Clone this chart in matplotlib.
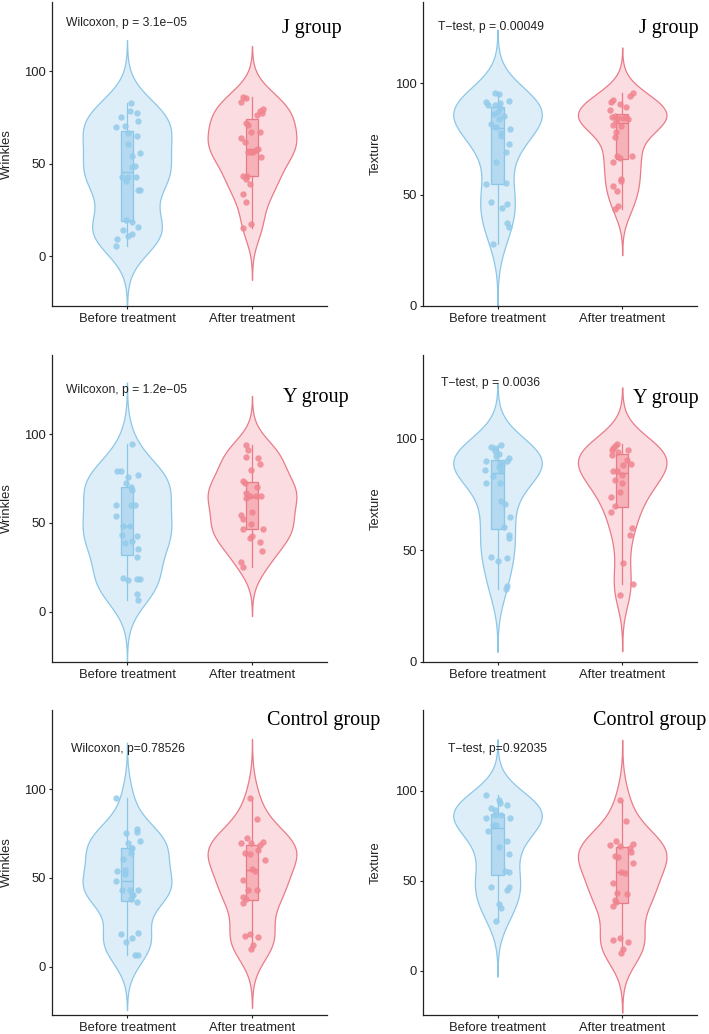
import numpy as np
import matplotlib.pyplot as plt

plt.rcParams['font.family'] = ['Liberation Sans', 'DejaVu Sans']

categories = ["Before treatment", "After treatment"]

# J group - wrinkles
j_wrinkle_before = [82.7, 78.3, 77.1, 75.3, 73.1, 69.9, 70.2, 66.6, 65.0, 60.3, 55.8, 54.3, 48.9, 48.2,
                    42.8, 42.8, 42.8, 40.4, 35.9, 35.9, 19.3, 18.4, 14.1, 15.7, 12.1, 11.0, 9.2, 5.6]
j_wrinkle_before_jit = [.03, .02, .08, -.05, .09, -.09, -.02, .01, .08, .01, .10, .04, .06, .04,
                        -.04, .01, .07, -.01, .09, .10, -.01, .04, -.03, .09, .04, .01, -.08, -.09]
j_wrinkle_after = [85.7, 85.2, 83.2, 79.6, 78.5, 77.1, 76.4, 71.7, 71.0, 67.0, 67.0, 63.7, 61.9, 57.9,
                   56.1, 56.1, 56.5, 57.2, 53.6, 43.5, 43.1, 41.7, 38.8, 33.8, 29.1, 17.1, 15.0]
j_wrinkle_after_jit = [-.07, -.05, -.09, .09, .06, .08, .04, -.05, -.03, -.01, .06, -.09, -.06, .05,
                       -.03, -.01, .01, .03, .07, -.07, -.04, -.05, -.02, -.07, -.05, -.01, -.07]

# J group - texture
j_texture_before = [95.4, 95.1, 92.1, 91.5, 91.0, 90.3, 90.0, 88.9, 87.1, 86.0, 85.3, 84.0, 81.7, 80.5,
                    79.6, 77.6, 76.1, 72.5, 68.9, 64.8, 54.7, 55.0, 46.7, 44.0, 45.8, 37.1, 35.4, 27.9]
j_texture_before_jit = [-.02, .01, .09, -.09, .02, -.08, -.02, .02, 0, -.03, .05, .01, -.05, -.01,
                        .10, .03, .03, .09, .07, -.01, -.09, .07, -.05, .04, .08, .08, .09, -.04]
j_texture_after = [95.4, 94.1, 92.5, 91.5, 90.5, 89.5, 88.0, 85.4, 85.0, 84.8, 84.5, 84.5, 84.0, 83.0,
                   81.0, 80.7, 78.0, 76.0, 67.5, 67.3, 66.6, 64.8, 57.1, 56.2, 53.8, 51.7, 44.9, 43.4]
j_texture_after_jit = [.09, .06, -.07, -.09, -.02, .03, -.10, -.06, .03, -.08, -.03, .01, .05, -.05,
                       -.07, -.01, -.05, -.06, .08, -.04, -.02, -.07, -.01, -.01, -.07, -.04, -.03, -.06]

# Y group - wrinkles
y_wrinkle_before = [94.7, 79.3, 79.3, 77.1, 75.9, 72.7, 70.5, 68.6, 60.2, 60.0, 60.0, 53.9, 48.5,
                    48.5, 43.0, 42.7, 39.7, 38.9, 35.5, 31.0, 19.2, 18.6, 18.6, 18.0, 10.0, 6.6]
y_wrinkle_before_jit = [.04, -.08, -.05, .09, .01, -.01, .03, .04, -.09, .03, .06, -.09, -.03,
                        .02, -.04, .08, .04, -.02, .09, .08, -.03, .08, .10, .01, .08, .09]
y_wrinkle_after = [94.0, 91.2, 87.4, 86.8, 83.3, 80.0, 73.5, 72.5, 70.3, 67.1, 65.0, 65.4, 65.4, 64.1,
                   56.0, 54.5, 52.0, 49.4, 46.4, 46.8, 42.7, 41.4, 39.5, 34.2, 28.2, 25.2]
y_wrinkle_after_jit = [-.05, -.03, -.05, .05, .06, -.01, -.07, -.06, .04, -.05, -.02, .03, .07, -.05,
                       0, -.09, -.07, -.01, -.07, .09, 0, -.02, .06, .08, -.09, -.07]

# Y group - texture
y_texture_before = [97.0, 96.2, 96.0, 94.5, 93.0, 92.1, 91.5, 90.1, 90.1, 89.0, 88.3, 87.5, 86.0, 85.7,
                    83.1, 80.2, 79.9, 72.0, 70.8, 65.0, 60.5, 56.6, 55.4, 46.9, 46.6, 45.2, 33.8, 32.4]
y_texture_before_jit = [.03, -.05, -.02, -.02, .01, -.01, .09, -.09, .08, .02, .04, .01, -.10, .03,
                        -.04, -.09, .02, .03, .06, .10, .05, .09, .09, -.05, .08, 0, .08, .07]
y_texture_after = [97.7, 96.5, 95.9, 94.8, 94.8, 94.0, 92.7, 90.4, 88.6, 88.0, 85.7, 85.5, 83.7, 81.6,
                   79.9, 76.1, 74.0, 70.0, 67.3, 60.1, 56.6, 44.3, 34.7, 30.0]
y_texture_after_jit = [-.04, -.06, -.07, -.08, .05, -.03, -.08, .04, .07, .01, -.07, -.04, 0, -.06,
                       0, -.02, -.09, -.06, -.09, .08, .06, .01, .09, -.02]

# Control group - wrinkles
c_wrinkle_before = [95.3, 77.6, 76.1, 75.2, 70.9, 69.5, 67.0, 66.7, 64.0, 60.5, 54.5, 54.1, 52.0, 48.1,
                    43.2, 43.0, 43.0, 41.0, 40.4, 38.0, 36.3, 19.2, 18.6, 16.4, 13.9, 6.4, 6.4]
c_wrinkle_before_jit = [-.09, .08, .08, -.01, .10, .01, .04, .03, .03, -.03, -.02, -.08, -.02, -.09,
                        -.04, .02, .09, .04, .05, .03, .08, .09, -.05, .04, -.01, .06, .09]
c_wrinkle_after = [94.9, 83.1, 72.4, 70.1, 69.9, 69.5, 68.6, 66.0, 63.9, 63.3, 60.0, 55.0, 54.1, 48.7,
                   43.2, 43.0, 39.5, 38.0, 36.1, 18.2, 17.3, 16.5, 12.0, 10.2]
c_wrinkle_after_jit = [-.02, .04, -.04, .09, -.09, -.01, .06, .05, -.06, -.02, .10, 0, .02, -.07,
                       -.03, .04, -.07, -.05, -.07, -.02, -.06, .05, .01, -.01]

# Control group - texture
c_texture_before = [97.6, 94.8, 93.0, 92.0, 90.6, 89.0, 86.5, 86.5, 85.0, 85.0, 80.9, 80.9, 77.4, 72.2,
                    68.9, 64.8, 55.6, 55.0, 46.5, 46.7, 44.8, 37.2, 34.6, 27.6]
c_texture_before_jit = [-.09, .01, .02, .08, -.05, -.02, -.02, .03, -.09, .10, -.04, -.01, -.08, .08,
                        .01, .09, .06, .09, -.05, .09, .08, .01, .03, -.01]
c_texture_after = [95.0, 83.1, 72.0, 70.2, 69.8, 69.1, 68.3, 66.0, 63.9, 63.1, 59.8, 55.0, 54.3, 48.7,
                   43.1, 42.8, 39.1, 38.0, 35.7, 18.0, 16.9, 16.1, 12.0, 9.8]
c_texture_after_jit = [-.02, .03, -.05, .09, -.10, -.02, .06, .07, -.06, -.03, .09, -.01, .02, -.07,
                       -.04, .04, -.06, -.05, -.07, -.02, -.07, .05, .01, -.01]

group_titles = ["J group", "J group", "Y group", "Y group", "Control group", "Control group"]
y_labels = ["Wrinkles", "Texture"] * 3
p_labels = ["Wilcoxon, p = 3.1e\u221205", "T\u2212test, p = 0.00049",
            "Wilcoxon, p = 1.2e\u221205", "T\u2212test, p = 0.0036",
            "Wilcoxon, p=0.78526", "T\u2212test, p=0.92035"]

blue_line, blue_fill, blue_box, blue_pt = "#8CC7E8", "#DDEEF8", "#B4D9F0", "#93CBEB"
red_line, red_fill, red_box, red_pt = "#E97B88", "#FBDCE0", "#F6B1B9", "#F0848F"

W, H = 709, 1034
fig = plt.figure(figsize=(W / 100, H / 100), dpi=100)


def px_axes(left, top, right, bottom):
    return fig.add_axes([left / W, 1 - bottom / H, (right - left) / W, (bottom - top) / H])


def kde(vals):
    # gaussian kde, bw.nrd0, cut = 3 (like ggplot violin trim=FALSE)
    v = np.asarray(vals, dtype=float)
    n = len(v)
    q75, q25 = np.percentile(v, [75, 25])
    bw = 0.9 * min(v.std(ddof=1), (q75 - q25) / 1.34) * n ** -0.2
    grid = np.linspace(v.min() - 3 * bw, v.max() + 3 * bw, 512)
    dens = np.exp(-0.5 * ((grid[:, None] - v[None, :]) / bw) ** 2).sum(axis=1)
    return grid, dens / dens.max()


def panel(ax, groups, ylabel, ylim, note, note_xy, label_x):
    styles = [(blue_line, blue_fill, blue_box, blue_pt), (red_line, red_fill, red_box, red_pt)]
    for i, ((vals, jit), (line, fill, box, pt)) in enumerate(zip(groups, styles)):
        x0 = i + 1
        grid, dens = kde(vals)
        ax.fill_betweenx(grid, x0 - 0.355 * dens, x0 + 0.355 * dens,
                         facecolor=fill, edgecolor=line, lw=0.9, zorder=1)
        ax.boxplot([vals], positions=[x0], widths=0.1, patch_artist=True, showfliers=False,
                   showcaps=False, manage_ticks=False,
                   boxprops=dict(facecolor=box, edgecolor=line, lw=0.9),
                   whiskerprops=dict(color=line, lw=0.9),
                   medianprops=dict(color=line, lw=1.0), zorder=2)
        ax.scatter(x0 + np.array(jit), vals, s=21, color=pt, alpha=0.85, lw=0, zorder=4)

    ax.set_xlim(0.4, 2.6)
    ax.set_ylim(*ylim)
    ax.set_xticks([1, 2])
    ax.set_xticklabels(categories)
    ax.set_yticks([0, 50, 100])
    for s in ["top", "right"]:
        ax.spines[s].set_visible(False)
    for s in ["left", "bottom"]:
        ax.spines[s].set_linewidth(0.9)
        ax.spines[s].set_color("#222222")
    ax.tick_params(length=2.5, width=0.8, pad=2, labelsize=9.4, colors="#222222")
    ax.tick_params(axis="x", pad=2.5)
    ax.set_ylabel(ylabel, fontsize=9.4, color="#222222")
    ax.yaxis.set_label_coords(label_x, 0.5)
    ax.text(note_xy[0], note_xy[1], note, fontsize=8.7, ha="left", va="center", color="#222222")


rows = [(2, 306), (355, 661.7), (710, 1015)]
cols = [(52, 327), (422.7, 697)]
label_xs = [-0.142, -0.148]
ylims = [(-27.0, 137.3), (0, 136.4), (-28.2, 144.7), (3.3, 137.5), (-27.3, 144.7), (-24.7, 144.8)]
note_pos = [(0.51, 125.7), (0.52, 125.0), (0.51, 125.0), (0.545, 124.8), (0.55, 122.7), (0.60, 123.1)]
title_pos = [(282, 29), (639, 29), (283, 397), (633, 398), (267, 721), (593, 721)]

data = [
    [(j_wrinkle_before, j_wrinkle_before_jit), (j_wrinkle_after, j_wrinkle_after_jit)],
    [(j_texture_before, j_texture_before_jit), (j_texture_after, j_texture_after_jit)],
    [(y_wrinkle_before, y_wrinkle_before_jit), (y_wrinkle_after, y_wrinkle_after_jit)],
    [(y_texture_before, y_texture_before_jit), (y_texture_after, y_texture_after_jit)],
    [(c_wrinkle_before, c_wrinkle_before_jit), (c_wrinkle_after, c_wrinkle_after_jit)],
    [(c_texture_before, c_texture_before_jit), (c_texture_after, c_texture_after_jit)],
]

for k in range(6):
    top, bottom = rows[k // 2]
    left, right = cols[k % 2]
    ax = px_axes(left, top, right, bottom)
    panel(ax, data[k], y_labels[k], ylims[k], p_labels[k], note_pos[k], label_xs[k % 2])
    tx, ty = title_pos[k]
    fig.text(tx / W, 1 - ty / H, group_titles[k], family="Liberation Serif", fontsize=14.5,
             ha="left", va="center", color="black")

fig.savefig("out.png", dpi=100)
